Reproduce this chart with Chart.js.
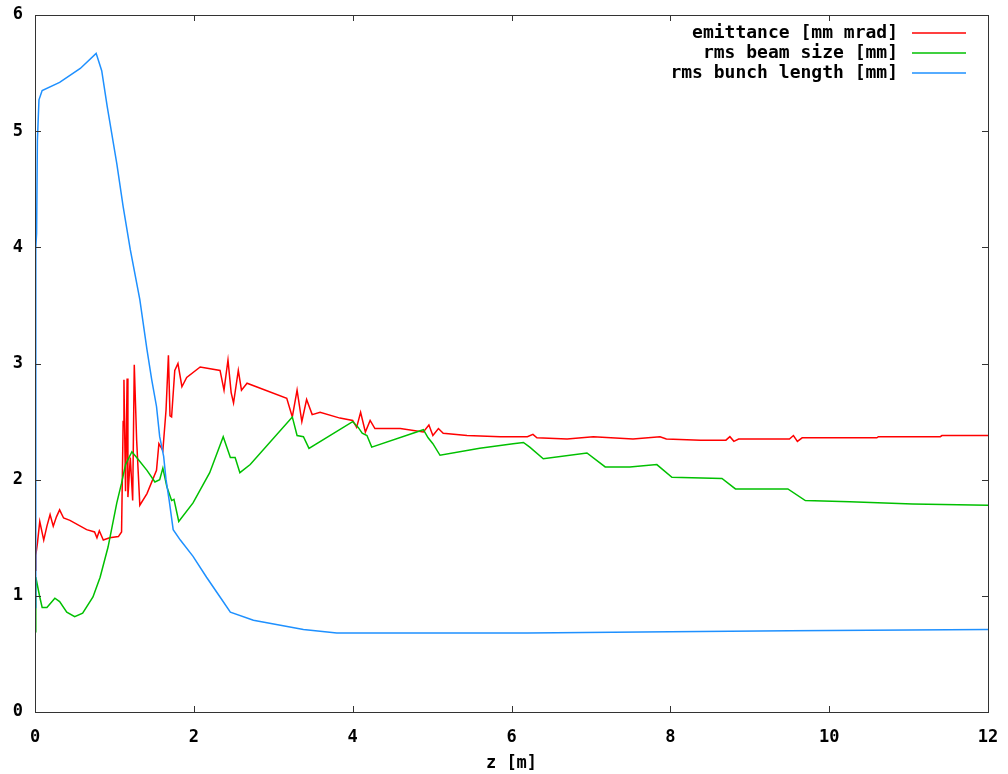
<!DOCTYPE html>
<html>
<head>
<meta charset="utf-8">
<script src="https://cdn.jsdelivr.net/npm/chart.js@4.4.1/dist/chart.umd.min.js"></script>
<style>
  html, body { margin: 0; padding: 0; background: #fff; }
  #wrap { width: 1008px; height: 774px; }
</style>
</head>
<body>
<div id="wrap"><canvas id="beamChart" width="1008" height="774"></canvas></div>
<script>
// emittance [mm mrad]
const emitZ = [0, 0.01, 0.03, 0.06, 0.11, 0.15, 0.19, 0.23, 0.27, 0.31, 0.36, 0.44, 0.65, 0.75, 0.78, 0.81, 0.86, 0.94, 1.05, 1.09,
  1.11, 1.12, 1.14, 1.16, 1.17, 1.2, 1.23, 1.25, 1.28, 1.32, 1.41, 1.53, 1.56, 1.61, 1.65, 1.68, 1.7, 1.72, 1.76, 1.8,
  1.85, 1.91, 2.08, 2.33, 2.38, 2.43, 2.47, 2.5, 2.56, 2.6, 2.67, 3.17, 3.24, 3.3, 3.36, 3.42, 3.49, 3.59, 3.84, 4.0,
  4.05, 4.1, 4.16, 4.22, 4.28, 4.6, 4.89, 4.96, 5.01, 5.08, 5.14, 5.44, 5.86, 6.2, 6.27, 6.32, 6.7, 7.03, 7.53, 7.87,
  7.95, 8.38, 8.7, 8.75, 8.8, 8.86, 9.5, 9.55, 9.6, 9.66, 10.6, 10.62, 11.4, 11.42, 12];
const emitVal = [1.22, 1.35, 1.45, 1.64, 1.48, 1.6, 1.7, 1.6, 1.68, 1.74, 1.67, 1.65, 1.57, 1.55, 1.5, 1.56, 1.48, 1.5, 1.51, 1.55,
  2.5, 2.86, 1.9, 2.87, 1.85, 2.19, 1.82, 2.99, 2.34, 1.78, 1.88, 2.08, 2.31, 2.25, 2.6, 3.07, 2.55, 2.54, 2.94, 3.0,
  2.8, 2.88, 2.97, 2.94, 2.77, 3.03, 2.75, 2.66, 2.94, 2.77, 2.83, 2.7, 2.54, 2.77, 2.5, 2.69, 2.56, 2.58, 2.53, 2.51,
  2.45, 2.58, 2.41, 2.51, 2.44, 2.44, 2.41, 2.47, 2.38, 2.44, 2.4, 2.38, 2.37, 2.37, 2.39, 2.36, 2.35, 2.37, 2.35, 2.37,
  2.35, 2.34, 2.34, 2.37, 2.33, 2.35, 2.35, 2.38, 2.33, 2.36, 2.36, 2.37, 2.37, 2.38, 2.38];

// rms beam size [mm]
const sizeZ = [0, 0.01, 0.06, 0.09, 0.15, 0.25, 0.31, 0.4, 0.5, 0.6, 0.73, 0.82, 0.92, 1.03, 1.09, 1.14, 1.22, 1.28, 1.41, 1.51,
  1.57, 1.61, 1.66, 1.72, 1.75, 1.81, 1.99, 2.2, 2.37, 2.46, 2.52, 2.58, 2.71, 3.24, 3.3, 3.38, 3.45, 4.0, 4.07, 4.12,
  4.18, 4.24, 4.89, 4.95, 5.01, 5.1, 5.6, 6.02, 6.15, 6.23, 6.4, 6.95, 7.18, 7.49, 7.83, 8.02, 8.65, 8.82, 9.48, 9.7,
  10.26, 11.05, 12];
const sizeVal = [0.69, 1.16, 0.99, 0.9, 0.9, 0.98, 0.95, 0.86, 0.82, 0.85, 0.99, 1.16, 1.42, 1.8, 1.97, 2.13, 2.24, 2.19, 2.08, 1.98,
  2.0, 2.1, 1.94, 1.82, 1.83, 1.64, 1.8, 2.06, 2.37, 2.19, 2.19, 2.06, 2.13, 2.54, 2.38, 2.37, 2.27, 2.5, 2.45, 2.4,
  2.38, 2.28, 2.43, 2.36, 2.31, 2.21, 2.27, 2.31, 2.32, 2.28, 2.18, 2.23, 2.11, 2.11, 2.13, 2.02, 2.01, 1.92, 1.92, 1.82,
  1.81, 1.79, 1.78];

// rms bunch length [mm]
const lenZ = [0, 0.01, 0.02, 0.03, 0.05, 0.09, 0.31, 0.57, 0.77, 0.84, 0.91, 1.03, 1.11, 1.2, 1.32, 1.41, 1.47, 1.53, 1.57, 1.62,
  1.65, 1.69, 1.74, 1.83, 1.99, 2.16, 2.33, 2.46, 2.75, 3.38, 3.8, 6.2, 8.0, 9.5, 12];
const lenVal = [0.9, 4.0, 4.12, 4.92, 5.27, 5.35, 5.42, 5.54, 5.67, 5.52, 5.21, 4.72, 4.35, 3.98, 3.55, 3.12, 2.86, 2.63, 2.37, 2.2,
  2.0, 1.82, 1.57, 1.48, 1.34, 1.16, 0.99, 0.86, 0.79, 0.71, 0.68, 0.68, 0.69, 0.70, 0.71];

const xTicks = [0, 2, 4, 6, 8, 10, 12];
const yTicks = [0, 1, 2, 3, 4, 5, 6];

const pts = (zs, vs) => zs.map((z, i) => ({ x: z, y: vs[i] }));

const FONT = '"DejaVu Sans Mono", "Liberation Mono", monospace';

// gnuplot style: box frame with inward ticks on all sides, legend top right
const framePlugin = {
    id: 'frame',
    afterDraw(chart) {
        const { ctx, chartArea: a, scales } = chart;
        ctx.save();
        ctx.strokeStyle = '#333';
        ctx.lineWidth = 1;
        ctx.strokeRect(a.left + 0.5, a.top + 0.5, a.right - a.left, a.bottom - a.top);
        ctx.beginPath();
        xTicks.forEach(v => {
            const px = Math.round(scales.x.getPixelForValue(v)) + 0.5;
            ctx.moveTo(px, a.bottom); ctx.lineTo(px, a.bottom - 6);
            ctx.moveTo(px, a.top); ctx.lineTo(px, a.top + 6);
        });
        yTicks.forEach(v => {
            const py = Math.round(scales.y.getPixelForValue(v)) + 0.5;
            ctx.moveTo(a.left, py); ctx.lineTo(a.left + 6, py);
            ctx.moveTo(a.right, py); ctx.lineTo(a.right - 6, py);
        });
        ctx.stroke();

        // legend
        ctx.font = 'bold 18px ' + FONT;
        ctx.textAlign = 'right';
        ctx.textBaseline = 'middle';
        chart.data.datasets.forEach((ds, i) => {
            const y = a.top + 18 + i * 20;
            ctx.fillStyle = '#000';
            ctx.fillText(ds.label, a.right - 90, y);
            ctx.strokeStyle = ds.borderColor;
            ctx.lineWidth = 1.5;
            ctx.beginPath();
            ctx.moveTo(a.right - 76, y);
            ctx.lineTo(a.right - 22, y);
            ctx.stroke();
        });
        ctx.restore();
    }
};

const ctx = document.getElementById('beamChart').getContext('2d');
const beamChart = new Chart(ctx, {
    type: 'line',
    data: {
        datasets: [{
            label: 'emittance [mm mrad]',
            data: pts(emitZ, emitVal),
            borderColor: '#ff0000',
            order: 2
        }, {
            label: 'rms beam size [mm]',
            data: pts(sizeZ, sizeVal),
            borderColor: '#00c000',
            order: 1
        }, {
            label: 'rms bunch length [mm]',
            data: pts(lenZ, lenVal),
            borderColor: '#1e90ff',
            order: 0
        }]
    },
    options: {
        responsive: false,
        animation: false,
        layout: { padding: { top: 15, right: 20, bottom: 0, left: 0 } },
        elements: {
            line: { borderWidth: 1.5, tension: 0 },
            point: { radius: 0 }
        },
        plugins: {
            legend: { display: false },
            tooltip: { enabled: false }
        },
        scales: {
            x: {
                type: 'linear',
                min: 0,
                max: 12,
                afterFit: s => { s.height = 62; s.paddingLeft = 0; s.paddingRight = 0; },
                afterBuildTicks: s => { s.ticks = xTicks.map(v => ({ value: v })); },
                grid: { display: false, drawTicks: false },
                border: { display: false },
                ticks: {
                    padding: 15,
                    maxRotation: 0,
                    autoSkip: false,
                    color: '#000',
                    font: { family: FONT, size: 17, weight: 'bold' }
                },
                title: {
                    display: true,
                    text: 'z [m]',
                    color: '#000',
                    padding: { top: 4, bottom: 0 },
                    font: { family: FONT, size: 17, weight: 'bold' }
                }
            },
            y: {
                min: 0,
                max: 6,
                afterFit: s => { s.width = 35; s.paddingTop = 0; s.paddingBottom = 0; },
                afterBuildTicks: s => { s.ticks = yTicks.map(v => ({ value: v })); },
                grid: { display: false, drawTicks: false },
                border: { display: false },
                ticks: {
                    padding: 12,
                    color: '#000',
                    font: { family: FONT, size: 17, weight: 'bold' }
                }
            }
        }
    },
    plugins: [framePlugin]
});
</script>
</body>
</html>
